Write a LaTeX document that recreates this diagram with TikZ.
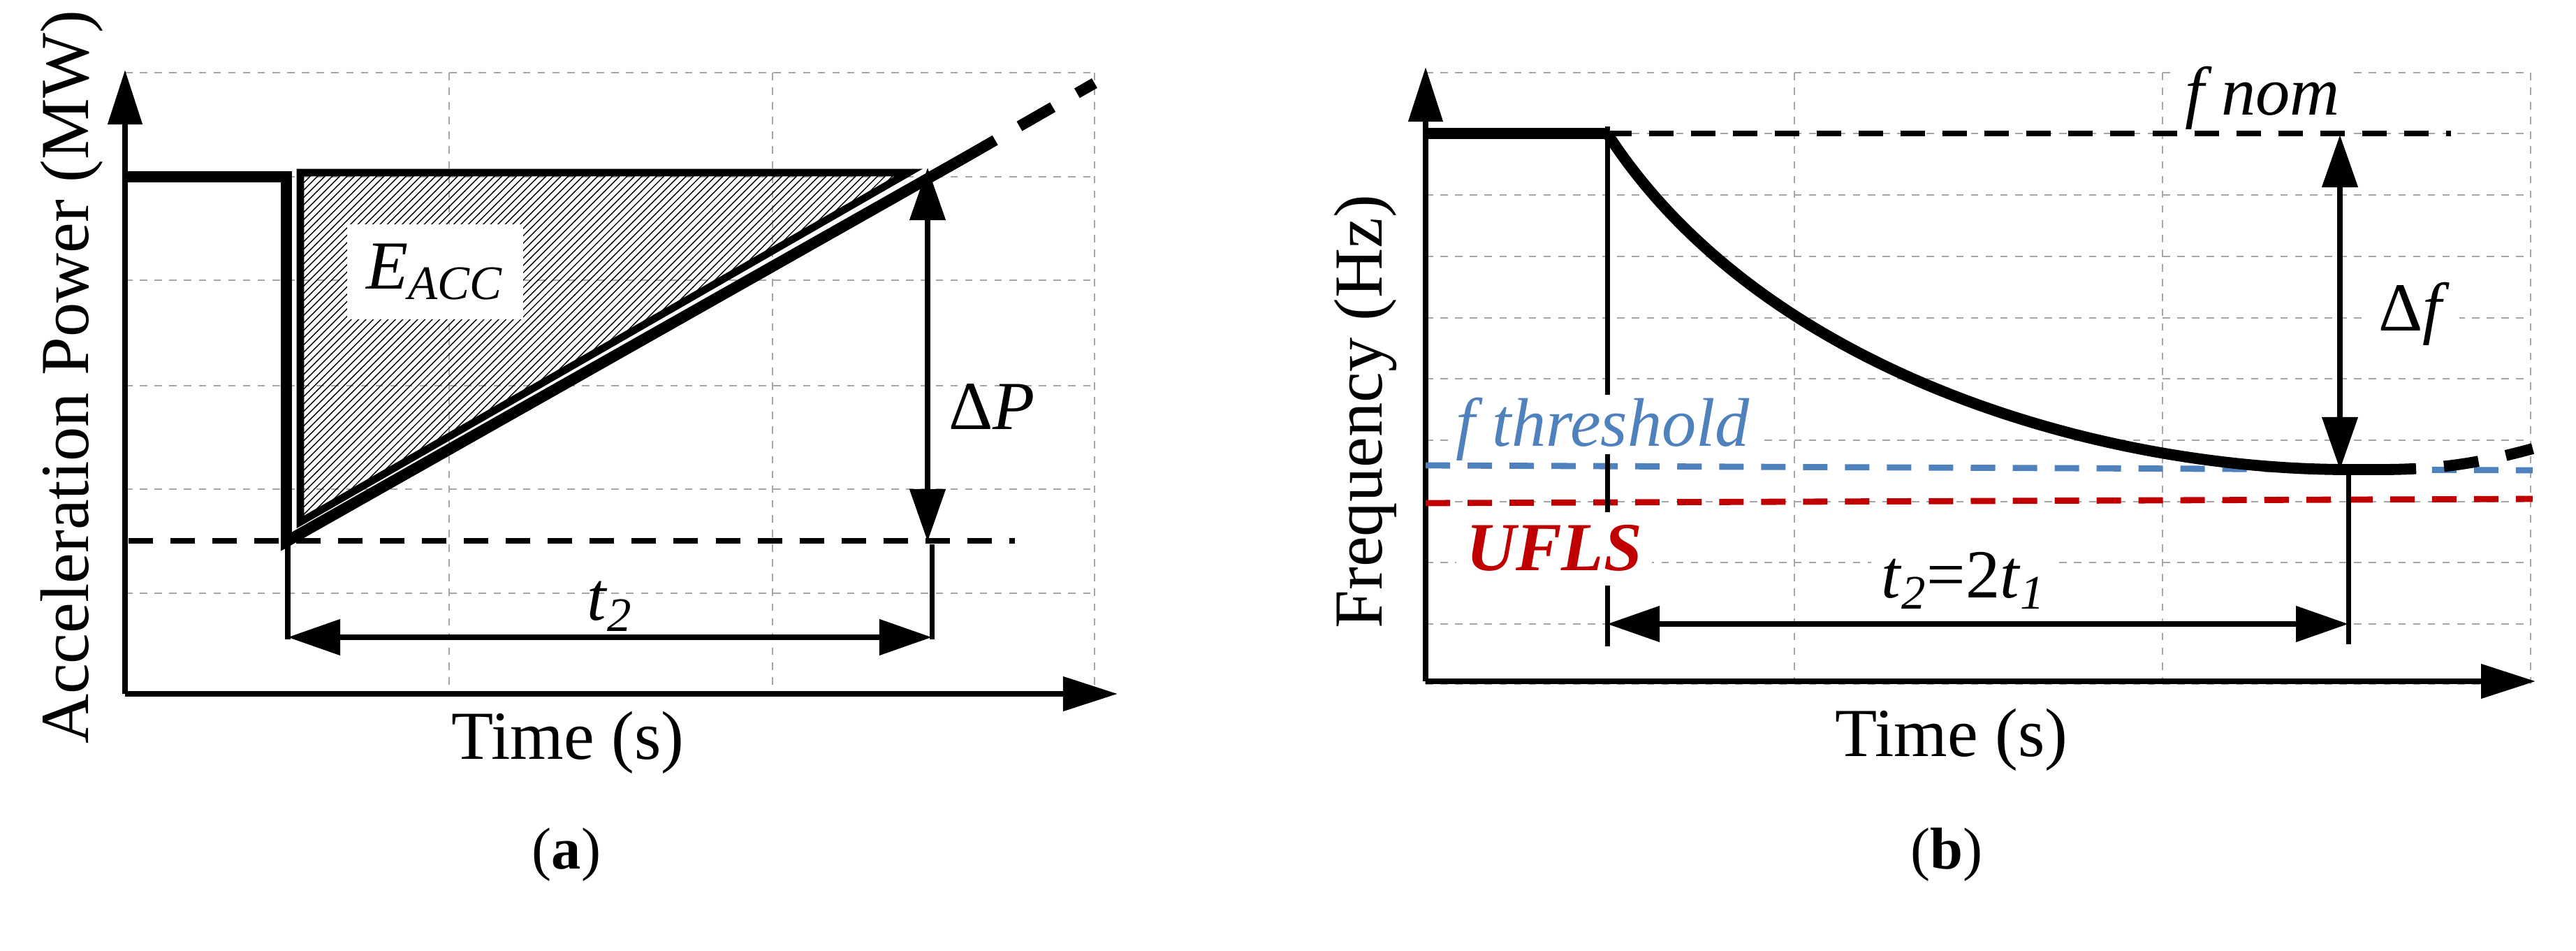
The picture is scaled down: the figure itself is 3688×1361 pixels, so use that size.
\documentclass[tikz,border=0pt]{standalone}
\usepackage{fontspec}
\setmainfont{Liberation Serif}
\usetikzlibrary{arrows.meta,patterns}
\newcommand{\sbs}[1]{\textsubscript{\textit{#1}}}
\begin{document}
\begin{tikzpicture}[x=0.01cm,y=-0.01cm,
  grid/.style={gray!70,dashed,line width=0.8pt},
  axis/.style={line width=2.2pt,-{Triangle[length=0.78cm,width=0.48cm]}},
  dim/.style={line width=2.2pt,{Triangle[length=0.75cm,width=0.5cm]}-{Triangle[length=0.75cm,width=0.5cm]}},
  tick/.style={line width=2pt},
  thick curve/.style={line width=4.5pt},
  lbl/.style={font=\fontsize{28}{32}\selectfont},
  mathlbl/.style={font=\fontsize{28}{32}\selectfont}]
\useasboundingbox (0,0) rectangle (3688,1361);
\definecolor{tblue}{RGB}{79,129,189}
\definecolor{tred}{RGB}{192,0,0}
% ===== panel a =====
\foreach \x in {179,643,1106,1567} \draw[grid] (\x,104) -- (\x,993);
\foreach \y in {104,253,401,552,700,849} \draw[grid] (179,\y) -- (1567,\y);
\coordinate (aO) at (179,993);
\coordinate (aY) at (179,100);
\coordinate (aX) at (1600,993);
\draw[axis] (aO) -- (aY);
\draw[axis] (aO) -- (aX);
\fill[pattern=north east lines] (430,247) -- (1301,247) -- (430,747) -- cycle;
\draw[line width=3pt] (430,247) -- (1301,247) -- (430,747) -- cycle;
\coordinate (p0) at (179,253);
\coordinate (p1) at (410,253);
\coordinate (p2) at (410,775);
\coordinate (p3) at (1377,228);
\coordinate (p4) at (1567,119);
\draw[thick curve] (p0) -- (p1) -- (p2) -- (p3);
\draw[thick curve,dash pattern=on 0.55cm off 0.4cm] (p3) -- (p4);
\node[fill=white,mathlbl,inner sep=8pt] (eacc) at (623,389) {\textit{E}\sbs{ACC}};
\coordinate (b0) at (184,774);
\coordinate (b1) at (1453,774);
\draw[line width=2.5pt,dash pattern=on 0.35cm off 0.25cm] (b0) -- (b1);
\coordinate (dp0) at (1328,240);
\coordinate (dp1) at (1328,775);
\draw[dim] (dp0) -- (dp1);
\node[mathlbl] (dP) at (1420,582) {Δ\textit{P}};
\coordinate (ta0) at (412,779); \coordinate (ta1) at (412,915);
\coordinate (tb0) at (1334,779); \coordinate (tb1) at (1334,915);
\draw[tick] (ta0) -- (ta1); \draw[tick] (tb0) -- (tb1);
\coordinate (t2a) at (412,912); \coordinate (t2b) at (1334,912);
\draw[dim] (t2a) -- (t2b);
\node[mathlbl] (t2) at (873,868) {\textit{t}\sbs{2}};
\node[lbl] (ax) at (813,1063) {Time (s)};
\node[lbl,rotate=90] (ay) at (103,540) {Acceleration Power (MW)};
\node[font=\fontsize{24}{28}\selectfont] (la) at (811,1223) {(\textbf{a})};
% ===== panel b =====
\foreach \x in {2041,2569,3096,3623} \draw[grid] (\x,104) -- (\x,979);
\foreach \y in {104,191,279,367,455,542,630,718,805,893,979} \draw[grid] (2041,\y) -- (3623,\y);
\coordinate (bO) at (2041,975);
\coordinate (bY) at (2041,96);
\coordinate (bX) at (3630,975);
\draw[axis] (bO) -- (bY);
\draw[axis] (bO) -- (bX);
\node[fill=white,text=tblue,mathlbl,inner sep=3pt] (fth) at (2295,614) {\textit{f threshold}};
\node[fill=white,text=tred,mathlbl,inner sep=4pt] (ufls) at (2225,784) {\textbf{\textit{UFLS}}};
\node[fill=white,mathlbl,inner sep=4pt] (fnom) at (3239,140) {\textit{f nom}};
\coordinate (bl0) at (2041,666); \coordinate (bl1) at (3626,673);
\draw[tblue,line width=2.5pt,dash pattern=on 0.35cm off 0.25cm] (bl0) -- (bl1);
\coordinate (rl0) at (2041,720); \coordinate (rl1) at (3626,714);
\draw[tred,line width=2.5pt,dash pattern=on 0.35cm off 0.25cm] (rl0) -- (rl1);
\coordinate (n0) at (2041,191);
\coordinate (n1) at (2301,191);
\coordinate (n2) at (3509,191);
\draw[thick curve] (n0) -- (n1);
\draw[line width=2.5pt,dash pattern=on 0.35cm off 0.25cm] (n1) -- (n2);
\coordinate (fmin) at (3362,672);
\coordinate (fe) at (3409,672);
\coordinate (fd) at (3626,642);
\draw[thick curve] (n1) .. controls (2520,530) and (3000,672) .. (fmin) -- (fe);
\draw[thick curve,dash pattern=on 0.5cm off 0.4cm] (fe) .. controls (3500,672) and (3560,660) .. (fd);
\coordinate (v0) at (2301,181); \coordinate (v1) at (2301,565);
\coordinate (v2) at (2301,650); \coordinate (v3) at (2301,733);
\coordinate (v4) at (2301,838); \coordinate (v5) at (2301,925);
\draw[tick] (v0) -- (v1) (v2) -- (v3) (v4) -- (v5);
\coordinate (w0) at (3362,672); \coordinate (w1) at (3362,922);
\draw[tick] (w0) -- (w1);
\coordinate (df0) at (3350,193); \coordinate (df1) at (3350,672);
\draw[dim] (df0) -- (df1);
\node[fill=white,mathlbl,inner sep=4pt] (df) at (3456,449) {Δ\textit{f}};
\coordinate (tc0) at (2301,893); \coordinate (tc1) at (3362,893);
\draw[dim] (tc0) -- (tc1);
\node[fill=white,mathlbl,inner sep=4pt] (t21) at (2811,831) {\textit{t}\sbs{2}=2\textit{t}\sbs{1}};
\node[lbl] (bx) at (2794,1059) {Time (s)};
\node[lbl,rotate=90] (by) at (1955,589) {Frequency (Hz)};
\node[font=\fontsize{24}{28}\selectfont] (lb) at (2787,1223) {(\textbf{b})};
\end{tikzpicture}
\end{document}
